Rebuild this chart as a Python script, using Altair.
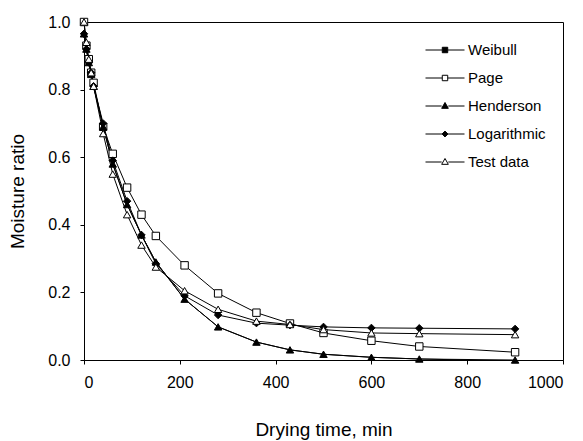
import altair as alt
import pandas as pd

times = [0, 5, 10, 15, 20, 40, 60, 90, 120, 150, 210, 280, 360, 430, 500, 600, 700, 900]
weibull_times = [0, 5, 10, 15, 20, 40, 60, 90, 120, 150, 210, 280, 360, 430, 500, 600, 700, 800]

series_names = ["Weibull", "Page", "Henderson", "Logarithmic", "Test data"]

weibull = [0.965, 0.92, 0.88, 0.845, 0.81, 0.69, 0.58, 0.46, 0.37, 0.29, 0.18, 0.098, 0.053, 0.030, 0.017, 0.008, 0.003, 0.0]
page = [1.0, 0.93, 0.89, 0.85, 0.82, 0.69, 0.61, 0.51, 0.43, 0.367, 0.28, 0.197, 0.14, 0.108, 0.08, 0.057, 0.04, 0.023]
henderson = [0.965, 0.92, 0.88, 0.845, 0.81, 0.69, 0.58, 0.46, 0.37, 0.29, 0.18, 0.098, 0.053, 0.030, 0.017, 0.008, 0.003, 0.0]
logarithmic = [0.965, 0.92, 0.88, 0.85, 0.81, 0.70, 0.59, 0.47, 0.37, 0.285, 0.19, 0.133, 0.109, 0.103, 0.098, 0.095, 0.094, 0.092]
test_data = [1.0, 0.94, 0.89, 0.85, 0.81, 0.67, 0.55, 0.43, 0.34, 0.275, 0.205, 0.15, 0.115, 0.105, 0.09, 0.08, 0.078, 0.075]

values = [weibull, page, henderson, logarithmic, test_data]
series_times = [weibull_times, times, times, times, times]

rows = []
for name, ts, vals in zip(series_names, series_times, values):
    for t, v in zip(ts, vals):
        rows.append({"series": name, "t": t, "mr": v})
df = pd.DataFrame(rows)

point_shapes = ["square", "square", "triangle-up", "diamond", "triangle-up"]
point_fills = ["black", "white", "black", "black", "white"]

legend_shapes = [
    "M-1,0H-0.14M0.14,0H1M-0.14,-0.14H0.14V0.14H-0.14Z",
    "M-1,0H-0.14M0.14,0H1M-0.14,-0.14H0.14V0.14H-0.14Z",
    "M-1,0H-0.17M0.17,0H1M0,-0.18L0.17,0.12H-0.17Z",
    "M-1,0H-0.15M0.15,0H1M0,-0.15L0.15,0L0,0.15L-0.15,0Z",
    "M-1,0H-0.17M0.17,0H1M0,-0.18L0.17,0.12H-0.17Z",
]

x_enc = alt.X("t:Q", scale=alt.Scale(domain=[0, 1000], nice=False),
              axis=alt.Axis(title="Drying time, min", values=[0, 200, 400, 600, 800, 1000],
                            format="d", titlePadding=30))
y_enc = alt.Y("mr:Q", scale=alt.Scale(domain=[0, 1], nice=False),
              axis=alt.Axis(title="Moisture ratio", values=[0, 0.2, 0.4, 0.6, 0.8, 1.0],
                            format=".1f", titlePadding=20))

base = alt.Chart(df)

lines = base.mark_line(color="black", strokeWidth=1).encode(
    x=x_enc, y=y_enc, detail="series:N", order="t:Q"
)

# markers, one layer per series (Weibull markers lie hidden under the others)
marker_layers = []
for name, shp, fil in zip(series_names, point_shapes, point_fills):
    if name == "Weibull":
        continue
    marker_layers.append(
        base.transform_filter(alt.datum.series == name).mark_point(
            shape=shp, filled=True, fill=fil, stroke="black", strokeWidth=1, size=55, opacity=1
        ).encode(x=x_enc, y=y_enc)
    )

legend_cfg = alt.Legend(title=None, orient="none", legendX=341, legendY=8,
                        symbolSize=1521, symbolStrokeWidth=1, symbolOpacity=1,
                        labelFontSize=15, labelFont="Liberation Sans",
                        labelColor="black", labelOffset=3,
                        rowPadding=-3, padding=0)

legend_layer = base.transform_filter("datum.t < 0").mark_point(
    filled=True, strokeWidth=1, opacity=1
).encode(
    x=x_enc, y=y_enc,
    shape=alt.Shape("series:N", scale=alt.Scale(domain=series_names, range=legend_shapes),
                    legend=legend_cfg),
    fill=alt.Fill("series:N", scale=alt.Scale(domain=series_names, range=point_fills),
                  legend=legend_cfg),
    stroke=alt.Stroke("series:N", scale=alt.Scale(domain=series_names, range=["black"] * 5),
                      legend=legend_cfg),
)

chart = alt.layer(lines, *marker_layers, legend_layer).properties(
    width=479, height=338,
    autosize=alt.AutoSizeParams(type="none"),
    padding={"left": 84, "top": 22, "right": 20, "bottom": 81},
).configure_view(
    stroke="black", strokeWidth=1
).configure_axis(
    grid=False, domainColor="black", tickColor="black", tickSize=4,
    labelColor="black", labelFont="Liberation Sans", labelFontSize=16, labelPadding=10,
    titleColor="black", titleFont="Liberation Sans", titleFontSize=19, titleFontWeight="normal",
)

chart.save("out.html", embed_options={"renderer": "svg", "actions": False})
